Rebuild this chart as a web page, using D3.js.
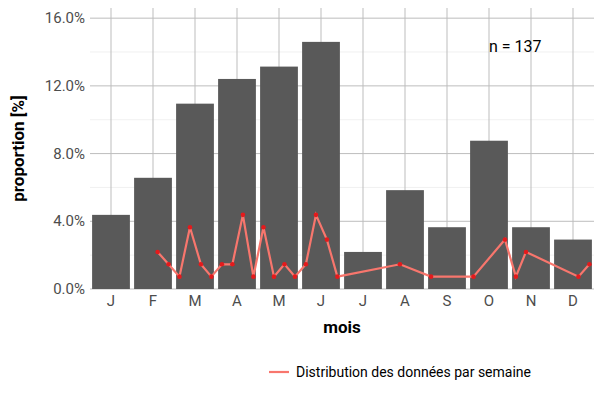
<!DOCTYPE html><html><head><meta charset="utf-8"><script src="https://cdn.jsdelivr.net/npm/d3@7"></script>
<style>body{margin:0;background:#fff}text{font-family:Roboto,"Liberation Sans",sans-serif}</style></head><body><svg width="600" height="400"></svg><script>
const months=["J","F","M","A","M","J","J","A","S","O","N","D"];
const monthCounts=[6,9,15,17,18,20,3,8,5,12,5,4];
const weekPos=[1.11,1.37,1.63,1.88,2.14,2.39,2.64,2.89,3.14,3.39,3.63,3.88,4.13,4.38,4.64,4.88,5.14,5.39,6.88,7.62,8.63,9.38,9.64,9.88,11.13,11.39];
const weekCounts=[3,2,1,5,2,1,2,2,6,1,5,1,2,1,2,6,4,1,2,1,1,4,1,3,1,2];
const N=137;
const yTicks=[0,4,8,12,16];
const svg=d3.select("svg");
const L=90,R=594,T=8,B=289;
const x=d3.scaleBand().domain(d3.range(12)).range([L,R]).paddingInner(0.1).paddingOuter(0.05);
const xc=i=>x(0)+x.bandwidth()/2+i*x.step();
const y=d3.scaleLinear().domain([0,16.6]).range([B,T]);
const g=svg.append("g");
// grid
yTicks.forEach(t=>g.append("line").attr("x1",L).attr("x2",R).attr("y1",y(t)).attr("y2",y(t)).attr("stroke","#bdbdbd").attr("stroke-width",1));
[2,6,10,14].forEach(t=>g.append("line").attr("x1",L).attr("x2",R).attr("y1",y(t)).attr("y2",y(t)).attr("stroke","#e6e6e6").attr("stroke-width",0.6));
d3.range(12).forEach(i=>g.append("line").attr("x1",xc(i)).attr("x2",xc(i)).attr("y1",T).attr("y2",B).attr("stroke","#bdbdbd"));
g.selectAll("rect").data(monthCounts).join("rect").attr("x",(d,i)=>x(i)).attr("width",x.bandwidth()).attr("y",d=>y(d/N*100)).attr("height",d=>B-y(d/N*100)).attr("fill","#595959");
const pts=weekPos.map((p,i)=>[xc(p),y(weekCounts[i]/N*100)]);
g.append("path").attr("d",d3.line()(pts)).attr("fill","none").attr("stroke","#f8766d").attr("stroke-width",2.2);
g.selectAll("circle").data(pts).join("circle").attr("cx",d=>d[0]).attr("cy",d=>d[1]).attr("r",2.3).attr("fill","#e41a1c");
// y labels
yTicks.forEach(t=>svg.append("text").attr("x",L-5).attr("y",y(t)+5).attr("text-anchor","end").attr("font-size",15).attr("fill","#4d4d4d").text(t.toFixed(1)+"%"));
months.forEach((m,i)=>svg.append("text").attr("x",xc(i)).attr("y",B+17).attr("text-anchor","middle").attr("font-size",15).attr("fill","#4d4d4d").text(m));
svg.append("text").attr("x",(L+R)/2).attr("y",333).attr("text-anchor","middle").attr("font-size",17).attr("font-weight","bold").text("mois");
svg.append("text").attr("transform",`translate(24,${(T+B)/2}) rotate(-90)`).attr("text-anchor","middle").attr("font-size",17).attr("font-weight","bold").text("proportion [%]");
svg.append("text").attr("x",489).attr("y",52).attr("font-size",16).text("n = 137");
svg.append("line").attr("x1",269).attr("x2",289).attr("y1",372).attr("y2",372).attr("stroke","#f8766d").attr("stroke-width",2.2);
svg.append("text").attr("x",296).attr("y",377).attr("font-size",14).text("Distribution des données par semaine");
</script></body></html>
